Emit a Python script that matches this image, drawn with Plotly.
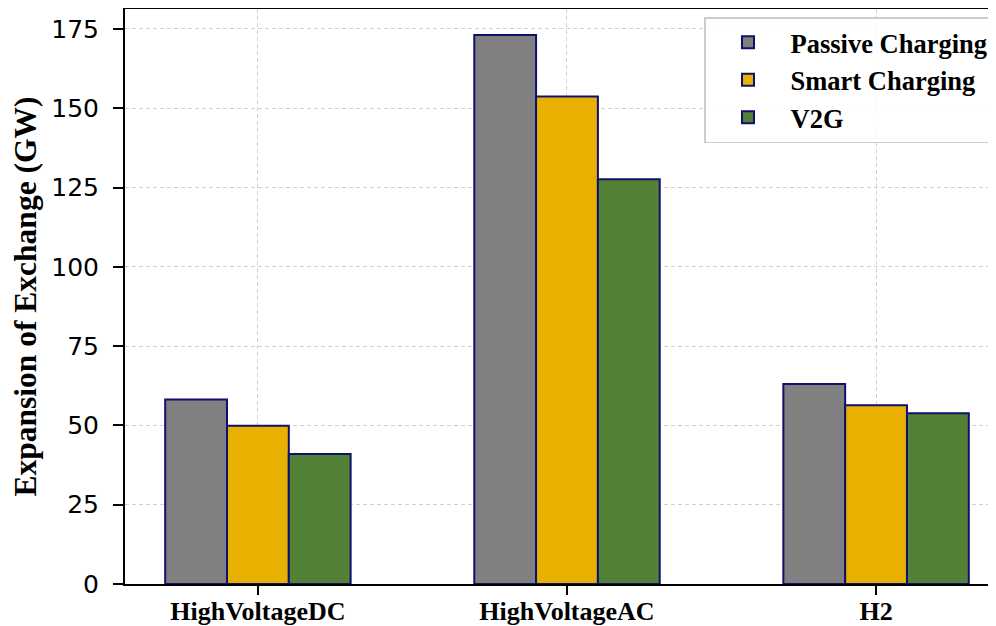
import plotly.graph_objects as go

categories = ["HighVoltageDC", "HighVoltageAC", "H2"]
series_names = ["Passive Charging", "Smart Charging", "V2G"]
passive = [58.2, 173.1, 63.1]
smart = [49.9, 153.7, 56.4]
v2g = [41.0, 127.6, 53.8]
colors = ["#808080", "#E8B000", "#538135"]
y_ticks = [0, 25, 50, 75, 100, 125, 150, 175]

serif = "Liberation Serif"

fig = go.Figure()
for name, vals, col in zip(series_names, [passive, smart, v2g], colors):
    fig.add_trace(go.Bar(
        x=categories, y=vals, name=f"<b>{name}</b>", legendgroup=name,
        marker=dict(color=col, line=dict(color="#10106e", width=2)),
    ))

# the page body has an 8px margin, so the figure is 8px smaller than the window
fig.update_layout(
    width=988, height=618,
    margin=dict(l=117, r=0, t=1, b=42, autoexpand=False),
    plot_bgcolor="white", paper_bgcolor="white",
    barmode="group", bargap=0.4, bargroupgap=0,
    showlegend=True,
    legend=dict(
        x=(704 - 125) / 871, y=0.986, xanchor="left", yanchor="top",
        bordercolor="#cccccc", borderwidth=1.5, bgcolor="rgba(255,255,255,0.85)",
        font=dict(family=serif, size=26.5, color="black"),
        itemwidth=75, tracegroupgap=0,
    ),
)
fig.update_xaxes(
    range=[-0.43, 2.388], automargin=False,
    tickvals=categories, ticktext=[f"<b>{c}</b>" for c in categories],
    showline=True, linecolor="black", linewidth=2, mirror=True,
    ticks="outside", ticklen=9, tickwidth=2, tickcolor="black",
    showgrid=True, gridcolor="#d0d0d0", griddash="4px,3px", gridwidth=1,
    tickfont=dict(family=serif, size=26, color="black"),
    ticklabelstandoff=-6,
)
fig.update_yaxes(
    range=[0, 181.3], automargin=False,
    tickvals=y_ticks,
    showline=True, linecolor="black", linewidth=2,
    ticks="outside", ticklen=10, tickwidth=2, tickcolor="black",
    showgrid=True, gridcolor="#d0d0d0", griddash="4px,3px", gridwidth=1,
    zeroline=False,
    tickfont=dict(family="DejaVu Sans", size=25, color="black"),
    ticklabelstandoff=9,
    title=dict(text="<b>Expansion of Exchange (GW)</b>",
               font=dict(family=serif, size=31.5, color="black"), standoff=7),
)

fig.write_html("out.html")
